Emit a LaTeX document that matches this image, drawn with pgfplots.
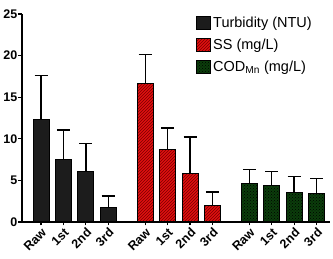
\documentclass[border=0pt]{standalone}
\usepackage{pgfplots}
\pgfplotsset{compat=1.18}
\usetikzlibrary{patterns}
\usepackage{fontspec}
\setmainfont{Liberation Sans}
\definecolor{barblack}{HTML}{1C1C1C}
\definecolor{barred}{HTML}{E01010}
\definecolor{hatchred}{HTML}{7A0000}
\definecolor{bargreen}{HTML}{0B3D0B}
\definecolor{dotgreen}{HTML}{000000}
\begin{document}
\begin{tikzpicture}[x=1pt,y=1pt]
\begin{axis}[
  at={(22pt,37pt)}, anchor=south west,
  scale only axis, width=308pt, height=208pt,
  xmin=-0.85, xmax=12.9, ymin=0, ymax=25,
  axis x line*=bottom, axis y line*=left,
  axis line style={-, line width=1.6pt},
  ytick={0,5,10,15,20,25},
  xtick={0,1,2,3,4.65,5.65,6.65,7.65,9.3,10.3,11.3,12.3},
  xticklabels={Raw,1st,2nd,3rd,Raw,1st,2nd,3rd,Raw,1st,2nd,3rd},
  tick align=outside, major tick length=3.5pt,
  tick style={line width=1.2pt, black},
  /pgf/number format/assume math mode=true,
  yticklabel style={font=\bfseries\fontsize{12.5}{14}\selectfont, inner sep=1pt},
  xticklabel style={font=\bfseries\fontsize{12.5}{14}\selectfont, rotate=45, anchor=north east, inner sep=1pt},
  ybar, bar width=16pt, bar shift=0pt,
  legend style={at={(rel axis cs:0.565,0.995)}, anchor=north west, draw=none, fill=none,
    font=\fontsize{14.5}{17}\selectfont, row sep=6pt, inner sep=0pt},
  legend cell align=left,
  legend image code/.code={\draw[#1, line width=1pt] (0pt,-6.5pt) rectangle (14pt,6.5pt);},
  error bars/y dir=plus, error bars/y explicit,
  error bars/error bar style={line width=1.4pt, black},
  error bars/error mark options={rotate=90, mark size=6.5pt, line width=1.4pt, black},
]
\addplot[draw=black, line width=1pt, fill=barblack] coordinates {
  (0,12.3) +- (0,5.3)
  (1,7.55) +- (0,3.5)
  (2,6.05) +- (0,3.4)
  (3,1.76) +- (0,1.35)
};
\addlegendentry{Turbidity (NTU)}
\addplot[draw=black, line width=1pt, fill=barred, postaction={pattern=north east lines, pattern color=hatchred}] coordinates {
  (4.65,16.7) +- (0,3.4)
  (5.65,8.7) +- (0,2.6)
  (6.65,5.85) +- (0,4.35)
  (7.65,2.0) +- (0,1.6)
};
\addlegendentry{SS (mg/L)}
\addplot[draw=black, line width=1pt, fill=bargreen, postaction={pattern=crosshatch dots, pattern color=dotgreen}] coordinates {
  (9.3,4.57) +- (0,1.76)
  (10.3,4.33) +- (0,1.72)
  (11.3,3.57) +- (0,1.93)
  (12.3,3.4) +- (0,1.85)
};
\addlegendentry{COD\textsubscript{Mn} (mg/L)}
\end{axis}
\pgfresetboundingbox
\path[use as bounding box] (0pt,0pt) rectangle (333pt,259pt);
\end{tikzpicture}
\end{document}
